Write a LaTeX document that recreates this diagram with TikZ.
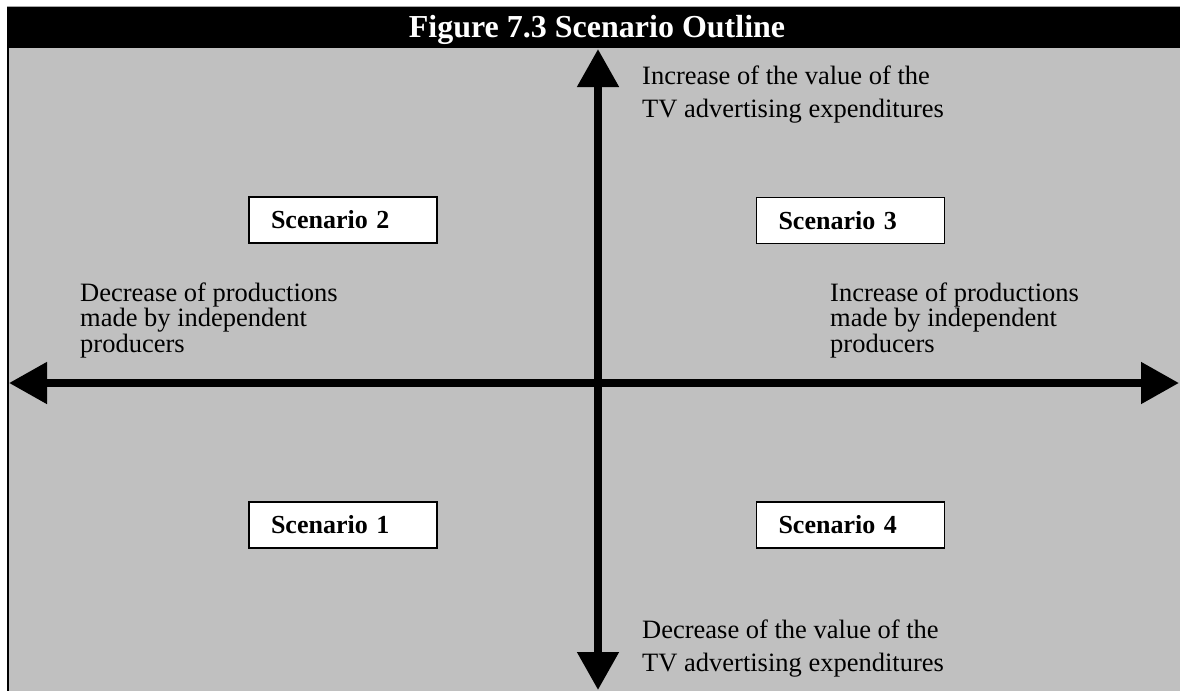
\documentclass[tikz,border=0pt]{standalone}
\usepackage{fontspec}
\setmainfont{Liberation Serif}
\usetikzlibrary{arrows.meta}
\definecolor{panelgray}{RGB}{192,192,192}

\begin{document}
\begin{tikzpicture}[x=1pt,y=-1pt,
  axis/.style={line width=8pt,
    {Triangle[length=38pt,width=40pt]}-{Triangle[length=38pt,width=40pt]}},
  scenbox/.style={draw=black, line width=1.5pt, fill=white,
    text width=144pt, inner xsep=22pt, minimum height=46pt, align=left,
    font=\fontsize{26}{30}\selectfont\bfseries},
  label/.style={align=left, inner sep=0pt,
    font=\fontsize{26.5}{33}\selectfont},
  sidelabel/.style={label, font=\fontsize{26.5}{24}\selectfont},
  title/.style={text=white, font=\fontsize{32}{36}\selectfont\bfseries}]

% canvas, header band and grey panel
\useasboundingbox (0,0) rectangle (1180,691);
\fill[white] (0,0) rectangle (1180,691);
\fill[panelgray] (7,48) rectangle (1180,691);
\fill[black] (7,7) rectangle (1180,48);
\draw[gray!70, line width=1pt] (7,6.5) -- (1180,6.5);
\draw[black, line width=2pt] (8,48) -- (8,691);

\node[title, anchor=base] (ttl) at (597,37) {Figure 7.3 Scenario Outline};

% axes
\coordinate (vtop) at (598,49);
\coordinate (vbot) at (598,690);
\coordinate (hleft) at (9,383);
\coordinate (hright) at (1179,383);
\draw[axis] (vbot) -- (vtop);
\draw[axis] (hleft) -- (hright);

% axis labels (base anchor sits on the last line)
\node[label, anchor=base west] (up) at (642,117)
  {Increase of the value of the\\TV advertising expenditures};
\node[label, anchor=base west] (down) at (642,671)
  {Decrease of the value of the\\TV advertising expenditures};
\node[sidelabel, anchor=base west] (left) at (80,352)
  {Decrease of productions\\made by independent\\producers};
\node[sidelabel, anchor=base west] (right) at (830,352)
  {Increase of productions\\made by independent\\producers};

% scenario boxes
\node[scenbox] (s2) at (343,220) {Scenario 2};
\node[scenbox] (s3) at (850.5,220.5) {Scenario 3};
\node[scenbox] (s1) at (343,525) {Scenario 1};
\node[scenbox] (s4) at (850.5,525) {Scenario 4};
\end{tikzpicture}
\end{document}
